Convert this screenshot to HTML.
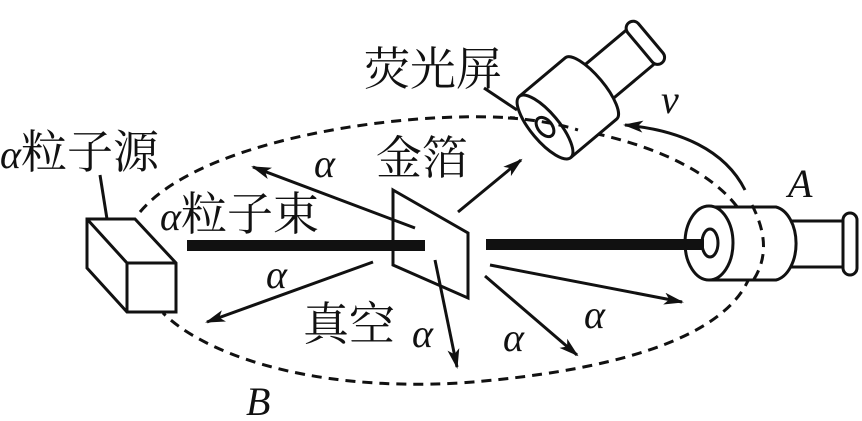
<!DOCTYPE html>
<html><head><meta charset="utf-8"><style>
html,body{margin:0;padding:0;background:#fff;}
svg{display:block;}
.t{font-family:"Liberation Serif","Noto Serif CJK SC","Noto Sans CJK SC",serif;font-size:46px;fill:#111;}
.i{font-family:"Liberation Serif",serif;font-style:italic;font-size:40px;fill:#111;}
</style></head><body>
<svg width="862" height="421" viewBox="0 0 862 421" xmlns="http://www.w3.org/2000/svg">
<defs>
<marker id="ah" viewBox="0 0 20 12" refX="18" refY="6" markerWidth="20" markerHeight="12" markerUnits="userSpaceOnUse" orient="auto">
<path d="M0,0 L20,6 L0,12 L5,6 Z" fill="#111"/></marker>
</defs>
<g fill="none" stroke="#111" stroke-width="3">
<path d="M140,212 C200,140 400,110 515,118" stroke-dasharray="10,7"/>
<path d="M578,130 C660,145 735,180 752,235 C768,300 700,365 460,383 C300,392 200,350 163,313" stroke-dasharray="10,7"/>
<path d="M87,219 L135,219 L176,263 L176,312 L127,312 L87,268 Z" fill="#fff"/>
<path d="M87,219 L127,263 L176,263 M127,263 L127,312"/>
<line x1="100" y1="175" x2="107" y2="219"/>
<rect x="187" y="240" width="238" height="11" fill="#111" stroke="none"/>
<rect x="486" y="239" width="220" height="11" fill="#111" stroke="none"/>
<path d="M393,190 L468,233 L468,298 L393,265 Z"/>
<line x1="415" y1="228" x2="253" y2="167" marker-end="url(#ah)"/>
<line x1="373" y1="262" x2="207" y2="322" marker-end="url(#ah)"/>
<line x1="435" y1="260" x2="457" y2="367" marker-end="url(#ah)"/>
<line x1="458" y1="212" x2="521" y2="160" marker-end="url(#ah)"/>
<line x1="490" y1="265" x2="682" y2="302" marker-end="url(#ah)"/>
<line x1="485" y1="276" x2="577" y2="355" marker-end="url(#ah)"/>
<path d="M745,190 C725,150 680,130 625,125" marker-end="url(#ah)"/>
<line x1="484" y1="88" x2="517" y2="110"/>
<g transform="translate(545,127) rotate(-40)">
<rect x="124" y="-26" width="14" height="52" rx="7" fill="#fff"/>
<path d="M60,-22 L124,-22 M60,22 L124,22"/>
<path d="M0,-40 L60,-40 A13,40 0 0 1 60,40 L0,40" fill="#fff"/>
<ellipse cx="0" cy="0" rx="14" ry="40" fill="#fff"/>
<ellipse cx="0" cy="0" rx="7" ry="11"/>
</g>
<path d="M508,118 C530,119 560,124 578,130" stroke-dasharray="10,7"/>
<rect x="843" y="213" width="14" height="62" rx="7" fill="#fff"/>
<path d="M780,221 L843,221 M780,267 L843,267"/>
<path d="M709,207 L776,207 A24,37 0 0 1 776,280 L709,280" fill="#fff"/>
<path d="M752,205 C770,240 765,265 750,285" stroke-dasharray="10,7"/>
<ellipse cx="709" cy="243" rx="24" ry="37" fill="#fff"/>
<ellipse cx="710" cy="243" rx="8" ry="14"/>
<rect x="600" y="239" width="104" height="11" fill="#111" stroke="none"/>
</g>
<text class="t" x="364" y="85">荧光屏</text>
<text class="t" x="0" y="168"><tspan class="i">α</tspan>粒子源</text>
<text class="t" x="376" y="174">金箔</text>
<text class="t" x="160" y="230"><tspan class="i">α</tspan>粒子束</text>
<text class="t" x="303" y="340">真空</text>
<text class="i" x="314" y="177">α</text>
<text class="i" x="266" y="288">α</text>
<text class="i" x="412" y="347">α</text>
<text class="i" x="503" y="351">α</text>
<text class="i" x="584" y="328">α</text>
<text class="i" x="661" y="113">v</text>
<text class="i" x="788" y="197">A</text>
<text class="i" x="246" y="415">B</text>
</svg>
</body></html>
